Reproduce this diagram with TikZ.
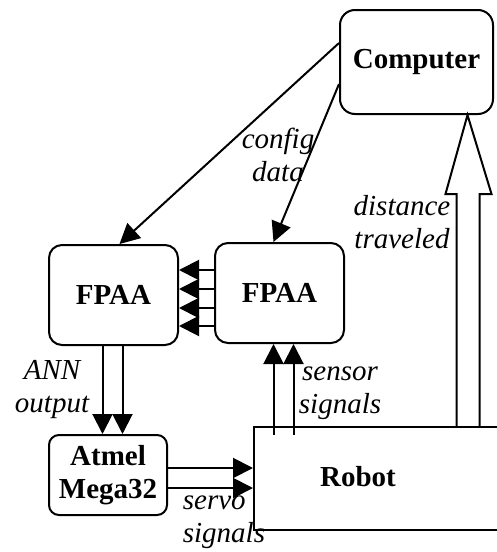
\documentclass[tikz,border=0pt]{standalone}
\usepackage{fontspec}
\setmainfont{Liberation Serif}
\usetikzlibrary{arrows.meta,calc}

\begin{document}
\fontsize{29}{33}\selectfont
\begin{tikzpicture}[x=1pt,y=-1pt,
    box/.style={draw,line width=2pt,rounded corners=13pt,font=\bfseries,align=center},
    arr/.style={line width=2pt,-{Triangle[length=20pt,width=20pt]}},
    lbl/.style={font=\itshape,align=center}]
  \useasboundingbox (0,0) rectangle (497,552);
  \clip (0,0) rectangle (497,552);

  \node[box,minimum width=153pt,minimum height=104pt,rounded corners=15pt] (computer) at (416.5,62) {Computer};
  \node[box,minimum width=129pt,minimum height=100pt] (fpaaL) at (113.5,295) {FPAA};
  \node[box,minimum width=129pt,minimum height=100pt] (fpaaR) at (279.5,293) {FPAA};
  \node[box,minimum width=118pt,minimum height=80pt,rounded corners=10pt] (atmel) at (108,475) {Atmel\\Mega32};
  \node[draw,line width=2pt,anchor=north west,minimum width=270pt,minimum height=103pt] (robot) at (253,426) {};
  \node[font=\bfseries] (robotname) at (358,477) {Robot};

  % configuration
  \draw[arr] ([yshift=19pt]computer.west) -- ([xshift=6pt]fpaaL.north);
  \draw[arr] ([yshift=-22pt]computer.west) -- ([xshift=-6pt]fpaaR.north);
  \node[lbl] (config) at (278,155) {config\\data};

  % FPAA to FPAA
  \foreach \dy in {-23,-4,15,33}
    \draw[arr] ($(fpaaR.west)+(0,\dy)$) -- ($(fpaaL.east |- fpaaR.west)+(0,\dy)$);

  % network output
  \foreach \dx in {-11,9}
    \draw[arr] ($(fpaaL.south)+(\dx,0)$) -- ($(fpaaL.south |- atmel.north)+(\dx,0)$);
  \node[lbl] (ann) at (52,390) {ANN\\output};

  % sensors
  \foreach \dx in {-6,14}
    \draw[arr] ($(fpaaR.south |- robot.north)+(\dx,9)$) -- ($(fpaaR.south)+(\dx,0)$);
  \node[lbl] (sensor) at (340,393) {sensor\\signals};

  % servos
  \foreach \dy in {-7,13}
    \draw[arr] ($(atmel.east)+(0,\dy)$) -- ($(atmel.east -| robot.west)+(0,\dy)$);
  \node[lbl,anchor=west,align=left] (servo) at (173,522) {servo\\signals};

  % distance back to computer
  \coordinate (tip) at ($(computer.south)+(51,0)$);
  \draw[line width=2pt] ($(tip |- robot.north)+(-11,0)$) -- ($(tip)+(-11,79)$)
    -- ($(tip)+(-22,79)$) -- (tip) -- ($(tip)+(24,79)$) -- ($(tip)+(12,79)$)
    -- ($(tip |- robot.north)+(12,0)$);
  \node[lbl] (distance) at (402,222) {distance\\traveled};
\end{tikzpicture}
\end{document}
